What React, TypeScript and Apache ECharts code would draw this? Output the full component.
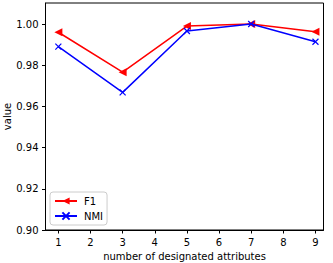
import React, { useEffect, useRef } from "react";
import * as echarts from "echarts";

const xValues = [1, 3, 5, 7, 9];
const f1Values = [0.996, 0.9766, 0.999, 1.0, 0.9963];
const nmiValues = [0.989, 0.9668, 0.9966, 1.0, 0.9914];
const xTicks = [1, 2, 3, 4, 5, 6, 7, 8, 9];
const yTicks = [0.9, 0.92, 0.94, 0.96, 0.98, 1.0];

const FONT = "DejaVu Sans";

export default function App() {
  const ref = useRef<HTMLDivElement>(null);
  useEffect(() => {
    if (!ref.current) return;
    const chart = echarts.init(ref.current, undefined, { renderer: "svg" });
    const xMark = "path://M0,0L10,10M10,0L0,10";
    chart.setOption({
      animation: false,
      backgroundColor: "#ffffff",
      textStyle: { fontFamily: FONT },
      grid: {
        left: 45.5,
        top: 3,
        right: 9.5,
        bottom: 33,
        containLabel: false,
        outerBoundsMode: "none",
        show: true,
        borderColor: "#000",
        borderWidth: 1,
        backgroundColor: "transparent",
      },
      legend: {
        orient: "vertical",
        left: 50,
        top: 192,
        padding: [4, 4, 4, 4],
        itemWidth: 22,
        itemHeight: 9,
        itemGap: 5,
        backgroundColor: "#fff",
        borderColor: "#cccccc",
        borderWidth: 1,
        borderRadius: 3,
        textStyle: { fontFamily: FONT, fontSize: 10, color: "#000", padding: [0, 0, 0, 2] },
        data: [{ name: "F1" }, { name: "NMI" }],
      },
      xAxis: {
        type: "value",
        min: 0.6,
        max: 9.25,
        name: "number of designated attributes",
        nameLocation: "middle",
        nameGap: 21,
        nameMoveOverlap: false,
        nameTextStyle: { fontFamily: FONT, fontSize: 10, color: "#000" },
        axisLine: { show: true, onZero: false, lineStyle: { color: "#000", width: 1 } },
        axisTick: { show: true, length: 3.5, customValues: xTicks, lineStyle: { color: "#000" } },
        axisLabel: {
          customValues: xTicks,
          fontFamily: FONT,
          fontSize: 10,
          color: "#000",
          margin: 7.5,
        },
        splitLine: { show: false },
      },
      yAxis: {
        type: "value",
        min: 0.9,
        max: 1.0102,
        name: "value",
        nameLocation: "middle",
        nameGap: 33,
        nameMoveOverlap: false,
        nameTextStyle: { fontFamily: FONT, fontSize: 10, color: "#000" },
        axisLine: { show: true, onZero: false, lineStyle: { color: "#000", width: 1 } },
        axisTick: { show: true, length: 3.5, customValues: yTicks, lineStyle: { color: "#000" } },
        axisLabel: {
          customValues: yTicks,
          fontFamily: FONT,
          fontSize: 10,
          color: "#000",
          margin: 7,
          formatter: (v: number) => v.toFixed(2),
        },
        splitLine: { show: false },
      },
      series: [
        {
          name: "F1",
          type: "line",
          data: xValues.map((x, i) => [x, f1Values[i]]),
          symbol: "triangle",
          symbolRotate: 90,
          symbolSize: 8,
          showAllSymbol: true,
          lineStyle: { color: "#ff0000", width: 1.5 },
          itemStyle: { color: "#ff0000" },
          z: 3,
        },
        {
          name: "NMI",
          type: "line",
          data: xValues.map((x, i) => [x, nmiValues[i]]),
          symbol: xMark,
          symbolSize: 6,
          showAllSymbol: true,
          lineStyle: { color: "#0000ff", width: 1.5 },
          itemStyle: { color: "#0000ff", borderColor: "#0000ff", borderWidth: 1.2 },
          z: 4,
        },
      ],
    });
    return () => chart.dispose();
  }, []);
  return (
    <div
      ref={ref}
      style={{ position: "fixed", left: 0, top: 0, width: 333, height: 263 }}
    />
  );
}
